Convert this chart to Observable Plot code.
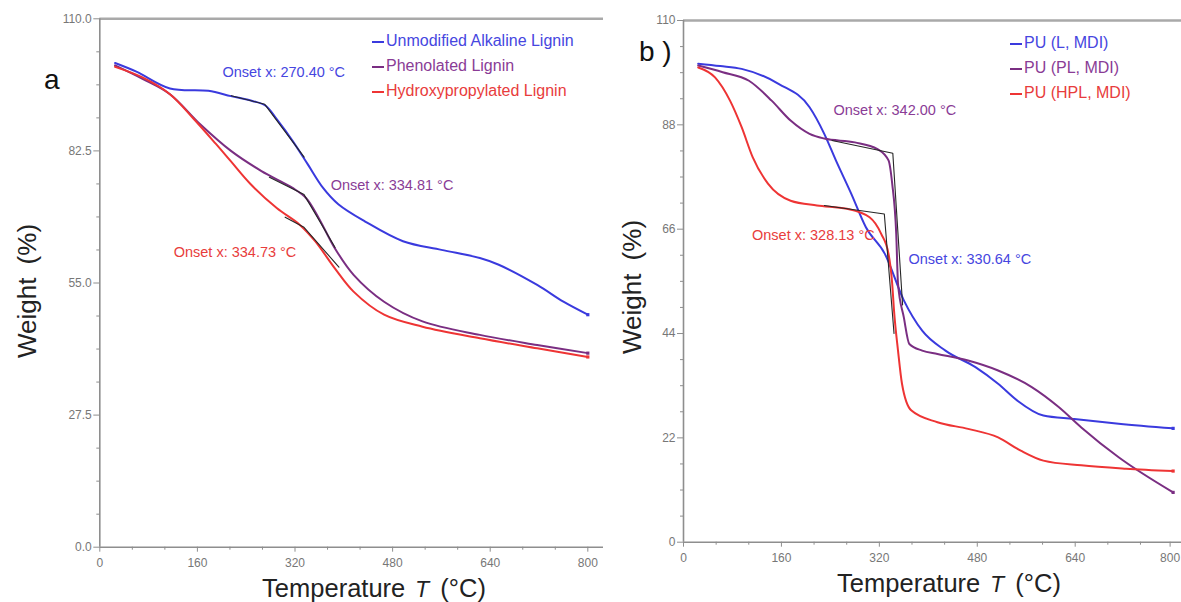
<!DOCTYPE html>
<html><head><meta charset="utf-8">
<script src="https://cdn.jsdelivr.net/npm/d3@7"></script>
<script src="https://cdn.jsdelivr.net/npm/@observablehq/plot@0.6"></script>
<style>
body{margin:0;background:#fff;font-family:"Liberation Sans",Arial,sans-serif;}
#wrap{position:relative;width:1181px;height:602px;overflow:hidden;background:#fff;}
.abs{position:absolute;white-space:nowrap;line-height:1;}
.leg{position:absolute;white-space:nowrap;font-size:16px;line-height:1;}
.leg span.d{display:inline-block;width:12px;height:2px;vertical-align:middle;margin-right:2px;}
</style></head><body><div id="wrap"></div>
<script>
// ---------- DATA ----------
// Panel a: TGA of lignins (temperature °C, weight %)
const seriesA = ["Unmodified Alkaline Lignin", "Phenolated Lignin", "Hydroxypropylated Lignin"];
const tempA_unmod = [25, 60, 115, 178, 215, 250, 272, 290, 316, 341, 366, 391, 435, 497, 560, 623, 654, 717, 760, 800];
const wtA_unmod   = [100.8, 99.0, 95.5, 95.0, 93.9, 92.9, 91.9, 89.1, 84.6, 79.7, 74.8, 71.4, 67.8, 63.7, 61.9, 60.2, 58.8, 54.6, 51.1, 48.4];
const tempA_phen  = [25, 70, 115, 165, 215, 265, 316, 338, 359, 385, 416, 466, 529, 623, 717, 800];
const wtA_phen    = [100.3, 97.5, 94.3, 88.0, 82.5, 78.3, 74.8, 72.7, 68.5, 62.3, 56.7, 51.1, 47.0, 44.2, 42.1, 40.4];
const tempA_hyd   = [25, 70, 115, 153, 190, 215, 247, 290, 328, 353, 385, 416, 466, 529, 623, 717, 800];
const wtA_hyd     = [100.0, 97.8, 94.3, 89.3, 84.0, 80.3, 75.6, 70.6, 67.1, 63.7, 58.1, 53.2, 48.4, 45.9, 43.5, 41.4, 39.6];
// onset tangent constructions (panel a)
const tanA_unmodT = [215.6, 270.4, 335]; const tanA_unmodW = [94.0, 92.2, 81.2];
const tanA_phenT  = [278, 334.81, 385.7]; const tanA_phenW  = [77.0, 73.4, 62.4];
const tanA_hydT   = [303.8, 334.73, 392]; const tanA_hydW   = [68.7, 66.6, 58.3];
const onsetA_labels = ["Onset x: 270.40 °C", "Onset x: 334.81 °C", "Onset x: 334.73 °C"];
const onsetA_T = [270.40, 334.81, 334.73];
const onsetA_W = [92.2, 73.4, 66.6];
const yTicksA = [0, 27.5, 55, 82.5, 110];

// Panel b: TGA of polyurethanes
const seriesB = ["PU (L, MDI)", "PU (PL, MDI)", "PU (HPL, MDI)"];
const tempB_L   = [24, 60, 95, 156, 206, 230, 249, 274, 298, 329, 360, 390, 428, 477, 514, 545, 588, 637, 711, 800];
const wtB_L     = [100.9, 100.4, 99.8, 96.6, 91.7, 86.1, 80.5, 73.5, 66.4, 60.8, 51.0, 44.6, 40.4, 36.9, 33.4, 29.9, 26.7, 26.0, 25.0, 24.0];
const tempB_PL  = [24, 64, 107, 144, 175, 206, 230, 280, 317, 335, 341, 347.6, 350.5, 360, 369, 390, 415, 465, 514, 569, 613, 650, 711, 800];
const wtB_PL    = [100.5, 99.1, 97.3, 93.1, 88.9, 86.1, 85.1, 84.3, 82.9, 80.5, 75.6, 65.0, 54.5, 47.4, 41.8, 40.4, 39.7, 38.3, 36.2, 32.7, 28.5, 24.2, 17.9, 10.5];
const tempB_HPL = [24, 51.5, 76, 95, 113, 138, 175, 218, 267, 304, 323, 335, 341, 344, 350.5, 357, 372, 415, 465, 514, 551, 588, 650, 723, 800];
const wtB_HPL   = [100.1, 98.0, 93.1, 87.5, 81.2, 75.6, 72.0, 71.0, 70.3, 68.5, 65.0, 60.8, 54.5, 48.8, 40.4, 33.4, 27.8, 25.3, 23.9, 22.1, 19.3, 17.2, 16.2, 15.5, 15.0];
const tanB_PLT  = [242.6, 342.0, 358]; const tanB_PLW  = [84.7, 82.0, 50.0];
const tanB_HPLT = [230, 328.13, 344];  const tanB_HPLW = [71.0, 69.2, 44.0];
const onsetB_labels = ["Onset x: 330.64 °C", "Onset x: 342.00 °C", "Onset x: 328.13 °C"];
const onsetB_T = [330.64, 342.00, 328.13];
const onsetB_W = [60.8, 82.0, 69.2];
const yTicksB = [0, 22, 44, 66, 88, 110];

const xTicks = [0, 160, 320, 480, 640, 800];
const axisTitleX = "Temperature";
const axisTitleY = "Weight (%)";

// ---------- STYLE / LAYOUT ----------
const colors = ["#3a3ade", "#7a2e82", "#ee3434"];
const textColors = ["#4646e0", "#8a3c96", "#e83c3c"];
const annA_offsets = [[19, -32], [88, -9], [-69, 25]];
const annB_offsets = [[84, 6], [2, -43], [-71, 21]];

const zip = (T, W) => T.map((t, i) => ({t, w: W[i]}));
function minorTicks(major, n) {
  const out = [];
  for (let i = 0; i < major.length - 1; i++) {
    const a = major[i], b = major[i + 1];
    for (let k = 1; k <= n; k++) out.push(a + (b - a) * k / (n + 1));
  }
  return out;
}

function panel({width, height, mL, mR, mT, mB, xMax, yTicks, yFmt, lines, tangents, ann, offsets, curve, lastDx}) {
  const lastX = xTicks[xTicks.length - 1];
  const marks = [
    Plot.ruleY([110], {stroke: "#a9a9a9", strokeWidth: 2.5}),
    Plot.ruleY([0], {stroke: "#8e8e8e", strokeWidth: 1.6}),
    Plot.ruleX([0], {stroke: "#8e8e8e", strokeWidth: 1.6}),
    Plot.axisX(xTicks.slice(0, -1), {label: null, tickSize: 5, tickPadding: 6, stroke: "#8e8e8e", tickFormat: d => String(d)}),
    Plot.axisX([lastX], {label: null, tickSize: 5, tickPadding: 6, stroke: "#8e8e8e", tickFormat: d => String(d), dx: lastDx}),
    Plot.axisX(minorTicks(xTicks, 2), {label: null, tickSize: 3, stroke: "#8e8e8e", tickFormat: () => ""}),
    Plot.axisY(yTicks, {label: null, tickSize: 6, tickPadding: 2, stroke: "#8e8e8e", tickFormat: yFmt}),
    Plot.axisY(minorTicks(yTicks, 3), {label: null, tickSize: 3, stroke: "#8e8e8e", tickFormat: () => ""})
  ];
  lines.forEach((d, i) => {
    marks.push(Plot.line(d, {x: "t", y: "w", stroke: colors[i], strokeWidth: 2, curve}));
    marks.push(Plot.dot([d[d.length - 1]], {x: "t", y: "w", r: 1.8, fill: colors[i], symbol: "square"}));
  });
  tangents.forEach(d => marks.push(Plot.line(d, {x: "t", y: "w", stroke: "#262626", strokeWidth: 1.1})));
  ann.forEach((a, i) => marks.push(Plot.text([a], {
    x: "t", y: "w", text: "label", dx: offsets[i][0], dy: offsets[i][1],
    fill: textColors[a.c], fontSize: 14.5, textAnchor: "middle"
  })));
  return Plot.plot({
    width, height, marginLeft: mL, marginRight: mR, marginTop: mT, marginBottom: mB,
    x: {domain: [0, xMax], label: null}, y: {domain: [0, 110], label: null},
    style: {background: "transparent", color: "#777", fontSize: "12px", fontFamily: "'Liberation Sans', Arial, sans-serif", overflow: "visible"},
    marks
  });
}

const svgA = panel({
  width: 610, height: 602, mL: 99.3, mR: 7, mT: 18.3, mB: 55.3, xMax: 825.7,
  yTicks: yTicksA, yFmt: d3.format(".1f"), curve: "catmull-rom", lastDx: 0,
  lines: [zip(tempA_unmod, wtA_unmod), zip(tempA_phen, wtA_phen), zip(tempA_hyd, wtA_hyd)],
  tangents: [zip(tanA_unmodT, tanA_unmodW), zip(tanA_phenT, tanA_phenW), zip(tanA_hydT, tanA_hydW)],
  ann: onsetA_labels.map((l, i) => ({label: l, t: onsetA_T[i], w: onsetA_W[i], c: i})),
  offsets: annA_offsets
});
const svgB = panel({
  width: 581, height: 602, mL: 83, mR: 0, mT: 20, mB: 60.3, xMax: 813.7,
  yTicks: yTicksB, yFmt: d => String(d), curve: "monotone-x", lastDx: -3,
  lines: [zip(tempB_L, wtB_L), zip(tempB_PL, wtB_PL), zip(tempB_HPL, wtB_HPL)],
  tangents: [zip(tanB_PLT, tanB_PLW), zip(tanB_HPLT, tanB_HPLW)],
  ann: onsetB_labels.map((l, i) => ({label: l, t: onsetB_T[i], w: onsetB_W[i], c: i})),
  offsets: annB_offsets
});

const wrap = document.getElementById("wrap");
svgA.style.position = "absolute"; svgA.style.left = "0px"; svgA.style.top = "0px";
svgB.style.position = "absolute"; svgB.style.left = "600px"; svgB.style.top = "0px";
wrap.appendChild(svgA); wrap.appendChild(svgB);

function addDiv(html, css, cls = "abs") {
  const d = document.createElement("div");
  d.className = cls; d.innerHTML = html; d.style.cssText += css; wrap.appendChild(d); return d;
}
// panel letters
addDiv("a", "left:44px;top:66px;font-size:28px;color:#111;");
addDiv("b )", "left:639px;top:38px;font-size:28px;color:#111;");
// axis titles
const xt = `${axisTitleX} <i style="font-family:'DejaVu Sans';font-size:21px">T</i>&nbsp;(°C)`;
addDiv(xt, "left:374px;top:589px;font-size:25.5px;color:#222;transform:translate(-50%,-50%);word-spacing:4px;");
addDiv(xt, "left:949px;top:584px;font-size:25.5px;color:#222;transform:translate(-50%,-50%);word-spacing:4px;");
addDiv(axisTitleY, "left:27px;top:291px;font-size:26px;color:#222;transform:translate(-50%,-50%) rotate(-90deg);word-spacing:6px;");
addDiv(axisTitleY, "left:632px;top:287px;font-size:26px;color:#222;transform:translate(-50%,-50%) rotate(-90deg);word-spacing:6px;");
// legends
seriesA.forEach((s, i) => addDiv(`<span class="d" style="background:${colors[i]}"></span>${s}`,
  `left:372px;top:${33 + i * 25}px;color:${textColors[i]};`, "leg"));
seriesB.forEach((s, i) => addDiv(`<span class="d" style="background:${colors[i]}"></span>${s}`,
  `left:1010px;top:${35 + i * 25}px;color:${textColors[i]};`, "leg"));
</script></body></html>
